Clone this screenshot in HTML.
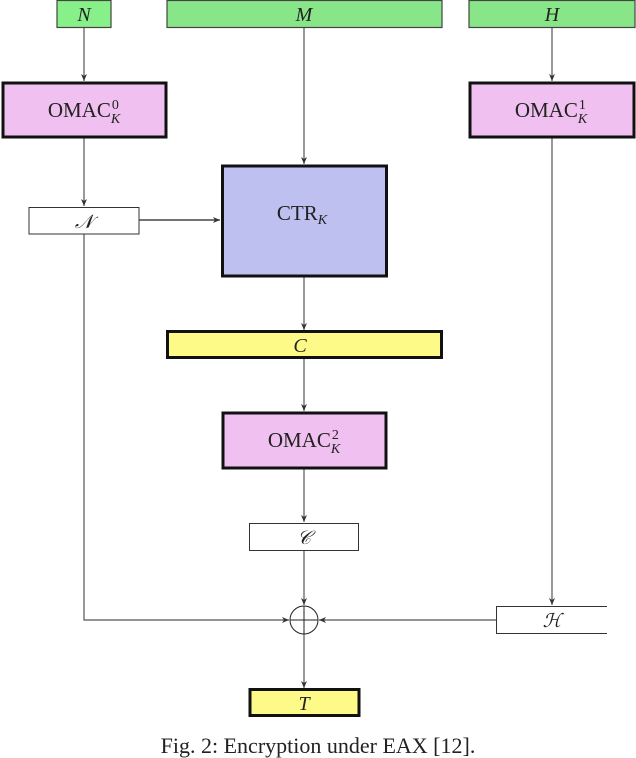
<!DOCTYPE html>
<html><head><meta charset="utf-8"><style>
html,body{margin:0;padding:0;background:#fff;}
svg{display:block;}
text{font-family:"Liberation Serif",serif;fill:#222;}
</style></head><body>
<svg width="636" height="758" viewBox="0 0 636 758" xmlns="http://www.w3.org/2000/svg">
<defs>
<marker id="a" markerWidth="8" markerHeight="8" refX="7" refY="4" orient="auto" markerUnits="userSpaceOnUse">
<path d="M0,1 L7,4 L0,7 L2,4 Z" fill="#333"/>
</marker>
</defs>
<g stroke="#555" stroke-width="1.2" fill="none">
<line x1="84" y1="28" x2="84" y2="81" marker-end="url(#a)"/>
<line x1="304" y1="28" x2="304" y2="164" marker-end="url(#a)"/>
<line x1="552" y1="28" x2="552" y2="81" marker-end="url(#a)"/>
<line x1="84" y1="138" x2="84" y2="206" marker-end="url(#a)"/>
<line x1="139" y1="220" x2="220" y2="220" stroke="#222" marker-end="url(#a)"/>
<line x1="304" y1="277" x2="304" y2="330" marker-end="url(#a)"/>
<line x1="304" y1="359" x2="304" y2="411" marker-end="url(#a)"/>
<line x1="304" y1="469" x2="304" y2="522" marker-end="url(#a)"/>
<line x1="304" y1="551" x2="304" y2="605" marker-end="url(#a)"/>
<line x1="552" y1="138" x2="552" y2="605" marker-end="url(#a)"/>
<polyline points="84,234 84,620 289,620" marker-end="url(#a)"/>
<line x1="496" y1="620" x2="319" y2="620" marker-end="url(#a)"/>
<line x1="304" y1="634" x2="304" y2="688" marker-end="url(#a)"/>
</g>
<circle cx="304" cy="620" r="14" fill="none" stroke="#222" stroke-width="1"/>
<line x1="290" y1="620" x2="318" y2="620" stroke="#222" stroke-width="1"/>
<line x1="304" y1="606" x2="304" y2="634" stroke="#222" stroke-width="1"/>
<g stroke="#444" stroke-width="1.2" fill="#88e688">
<rect x="57" y="0.5" width="54" height="27" fill="#88f088"/>
<rect x="167" y="0.5" width="275" height="27"/>
<rect x="469" y="0.5" width="166" height="27"/>
</g>
<text x="84" y="21" font-size="20" font-style="italic" text-anchor="middle">N</text>
<text x="304" y="21" font-size="20" font-style="italic" text-anchor="middle">M</text>
<text x="552" y="21" font-size="20" font-style="italic" text-anchor="middle">H</text>
<g stroke="#111" stroke-width="3" fill="#f0c0f0">
<rect x="3" y="83" width="163" height="54"/>
<rect x="470" y="83" width="164" height="54"/>
<rect x="223" y="413" width="163" height="55"/>
</g>
<text x="84" y="117" font-size="21" text-anchor="middle">OMAC<tspan font-size="14" dx="1" dy="-8">0</tspan><tspan font-size="14" font-style="italic" dx="-8" dy="14">K</tspan></text>
<text x="551" y="117" font-size="21" text-anchor="middle">OMAC<tspan font-size="14" dx="1" dy="-8">1</tspan><tspan font-size="14" font-style="italic" dx="-8" dy="14">K</tspan></text>
<text x="304" y="447" font-size="21" text-anchor="middle">OMAC<tspan font-size="14" dx="1" dy="-8">2</tspan><tspan font-size="14" font-style="italic" dx="-8" dy="14">K</tspan></text>
<rect x="222.5" y="166" width="164" height="110" fill="#bec0f0" stroke="#111" stroke-width="3"/>
<text x="302" y="220" font-size="21" text-anchor="middle">CTR<tspan font-size="14" font-style="italic" dy="4">K</tspan></text>
<g stroke="#111" stroke-width="3" fill="#fdfa88">
<rect x="167.5" y="331.5" width="274" height="26"/>
<rect x="250" y="689.5" width="109" height="26"/>
</g>
<text x="300" y="352" font-size="20" font-style="italic" text-anchor="middle">C</text>
<text x="304" y="710" font-size="20" font-style="italic" text-anchor="middle">T</text>
<g stroke="#333" stroke-width="1" fill="#fff">
<rect x="29" y="207.5" width="110" height="26.5"/>
<rect x="249.5" y="523.5" width="109" height="27"/>
</g>
<path d="M607,606.5 L496.5,606.5 L496.5,633.5 L607,633.5" fill="#fff" stroke="#333" stroke-width="1"/>
<text x="84" y="228" font-size="19" font-style="italic" text-anchor="middle">𝒩</text>
<text x="304" y="544" font-size="19" font-style="italic" text-anchor="middle">𝒞</text>
<text x="552" y="627" font-size="19" font-style="italic" text-anchor="middle">ℋ</text>
<text x="318" y="753" font-size="22" text-anchor="middle">Fig. 2: Encryption under EAX [12].</text>
</svg>
</body></html>
